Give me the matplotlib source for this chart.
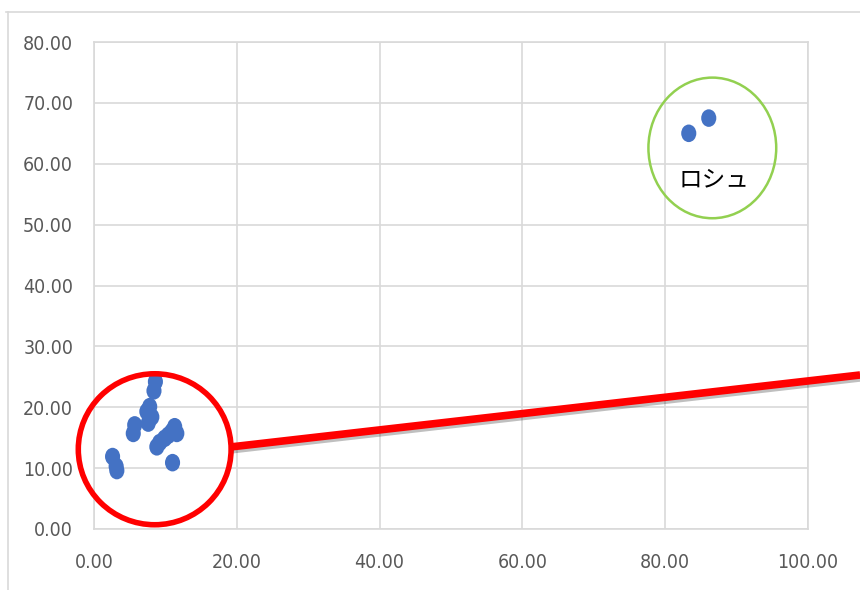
import matplotlib
matplotlib.use("Agg")
from matplotlib import pyplot as plt
from matplotlib.patches import Ellipse
from matplotlib.lines import Line2D
from matplotlib.path import Path
from matplotlib.transforms import Affine2D
import matplotlib.patheffects as pe

# scatter values
xs = [8.6, 8.4, 7.8, 7.4, 8.1, 7.6, 5.7, 5.5,
      11.3, 10.9, 10.4, 9.9, 9.2, 8.8, 11.6,
      11.0, 2.6, 3.1, 3.2,
      83.3, 86.1]
ys = [24.2, 22.7, 20.1, 19.3, 18.4, 17.4, 17.1, 15.7,
      16.8, 16.0, 15.4, 14.9, 14.2, 13.5, 15.7,
      10.9, 11.9, 10.3, 9.6,
      65.0, 67.5]

x_ticks = [0, 20, 40, 60, 80, 100]
y_ticks = [0, 10, 20, 30, 40, 50, 60, 70, 80]

label_text = "ロシュ"

grid_col = "#d9d9d9"
tick_col = "#595959"

fig = plt.figure(figsize=(8.6, 5.9), dpi=100)
ax = fig.add_axes([94 / 860, 1 - 529 / 590, 714 / 860, 487 / 590])

# slightly tall oval marker
oval = Path.unit_circle().transformed(Affine2D().scale(0.86, 1.0))
ax.scatter(xs, ys, marker=oval, s=160, color="#4472c4", edgecolors="none",
           zorder=3)

ax.set_xlim(0, 100)
ax.set_ylim(0, 80)
ax.set_xticks(x_ticks)
ax.set_yticks(y_ticks)
ax.set_xticklabels([f"{v:.2f}" for v in x_ticks])
ax.set_yticklabels([f"{v:.2f}" for v in y_ticks])
ax.grid(True, color=grid_col, linewidth=1.2)
ax.set_axisbelow(True)
for s in ax.spines.values():
    s.set_color(grid_col)
    s.set_linewidth(1.2)
ax.tick_params(length=0, colors=tick_col, labelsize=14)
ax.tick_params(axis="y", pad=15)
ax.tick_params(axis="x", pad=17)
for lab in ax.get_xticklabels() + ax.get_yticklabels():
    lab.set_family("DejaVu Sans")
    lab.set_stretch("condensed")

# red circle and connector
ax.add_patch(Ellipse((8.5, 13.1), 21.4, 24.8, fill=False, edgecolor="#ff0000",
                     linewidth=4, clip_on=False, zorder=4))
ax.plot([19.3, 107.3], [13.5, 25.3], color="#ff0000", linewidth=5.5,
        clip_on=False, zorder=4, solid_capstyle="butt",
        path_effects=[pe.SimpleLineShadow(offset=(1, -2), alpha=0.25),
                      pe.Normal()])

# green circle with label
ax.add_patch(Ellipse((86.6, 62.6), 17.9, 23.1, fill=False, edgecolor="#92d050",
                     linewidth=1.8, clip_on=False, zorder=4))
ax.text(86.8, 57.3, label_text, ha="center", va="center", fontsize=17,
        family=["Noto Sans CJK JP", "DejaVu Sans"], color="#000000", zorder=5)

# outer chart frame
fig.add_artist(Line2D([6 / 860, 1], [1 - 12 / 590, 1 - 12 / 590],
                      color=grid_col, linewidth=1.2))
fig.add_artist(Line2D([8 / 860, 8 / 860], [0, 1 - 12 / 590],
                      color=grid_col, linewidth=1.2))

fig.savefig("out.png", dpi=100)
